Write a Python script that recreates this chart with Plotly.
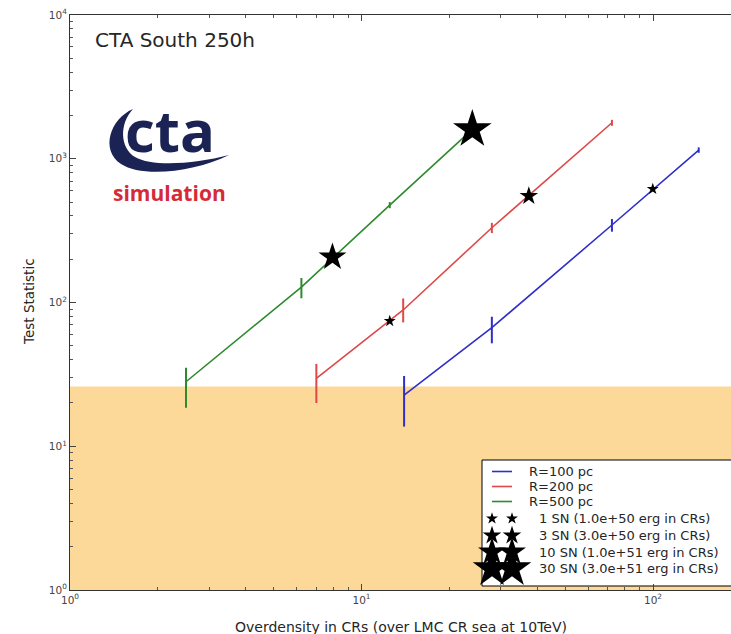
import plotly.graph_objects as go

# ---------------- data ----------------
# Test statistic versus CR overdensity for three source radii
blue_x = [14.0, 28.0, 72.3, 143.5]
blue_ts = [22.7, 66.8, 346, 1150]
blue_err_hi = [8.1, 12.8, 35, 50]
blue_err_lo = [9.0, 14.8, 35, 50]

red_x = [7.0, 13.9, 28.0, 72.3]
red_ts = [29.7, 88.7, 331, 1780]
red_err_hi = [7.7, 18, 27, 85]
red_err_lo = [9.7, 16, 27, 85]

green_x = [2.5, 6.22, 12.5, 24.0]
green_ts = [28.1, 128, 476, 1600]
green_err_hi = [7.0, 20, 23, 60]
green_err_lo = [9.6, 21, 23, 60]

radius_labels = ["R=100 pc", "R=200 pc", "R=500 pc"]
radius_colors = ["#2f2fc8", "#de4848", "#2e8a2e"]

# supernova-count markers placed on the curves
sn_star_x = [99.8, 12.5, 37.5, 7.95, 24.0]
sn_star_ts = [616, 74.3, 551, 207, 1600]
sn_star_n = [1, 1, 3, 10, 30]

sn_counts = [1, 3, 10, 30]
sn_energy = ["1.0e+50", "3.0e+50", "1.0e+51", "3.0e+51"]
sn_marker_size = {1: 9, 3: 14, 10: 21, 30: 29}

ts_threshold = 26          # top of the shaded (non-detection) band
x_tick_vals = [1, 10, 100]
x_tick_text = ["10<sup>0</sup>", "10<sup>1</sup>", "10<sup>2</sup>"]
y_tick_vals = [1, 10, 100, 1000, 10000]
y_tick_text = ["10<sup>0</sup>", "10<sup>1</sup>", "10<sup>2</sup>",
               "10<sup>3</sup>", "10<sup>4</sup>"]

# ---------------- layout helpers ----------------
W, H = 731, 634
ML, MR, MT, MB = 70, 0, 15, 44
PW, PH = W - ML - MR, H - MT - MB
X_DECADES = PW / 291.5


def fx(p):
    return (p - ML) / PW


def fy(p):
    return (MT + PH - p) / PH


FONT = "DejaVu Sans"
TXT = "#262626"

fig = go.Figure()

# shaded band below the detection threshold
x_end = 10 ** X_DECADES * 1.5
fig.add_trace(go.Scatter(
    x=[1, x_end, x_end, 1, 1], y=[0.5, 0.5, ts_threshold, ts_threshold, 0.5],
    fill="toself", fillcolor="#fcd899", mode="none",
    hoverinfo="skip", showlegend=False))

series = [(blue_x, blue_ts, blue_err_hi, blue_err_lo),
          (red_x, red_ts, red_err_hi, red_err_lo),
          (green_x, green_ts, green_err_hi, green_err_lo)]
for (xs, ys, ehi, elo), col, lab in zip(series, radius_colors, radius_labels):
    fig.add_trace(go.Scatter(
        x=xs, y=ys, mode="lines", name=lab, showlegend=False,
        line=dict(color=col, width=1.6),
        error_y=dict(type="data", array=ehi, arrayminus=elo, symmetric=False,
                     color=col, thickness=2, width=0)))

fig.add_trace(go.Scatter(
    x=sn_star_x, y=sn_star_ts, mode="markers", showlegend=False,
    marker=dict(symbol="star", color="black", opacity=1,
                size=[sn_marker_size[n] for n in sn_star_n],
                line=dict(width=0))))

# ---------------- hand-built legend (pixel overlay axes) ----------------
box_l, box_r, box_t, box_b = 482, 740, 460, 586
fig.add_trace(go.Scatter(
    x=[box_l, box_r, box_r, box_l, box_l], y=[box_t, box_t, box_b, box_b, box_t],
    xaxis="x2", yaxis="y2", mode="lines", fill="toself", fillcolor="white",
    line=dict(color="black", width=1), hoverinfo="skip", showlegend=False,
    cliponaxis=False))

row_y = [471.5, 486.5, 501.5, 518.5, 535.5, 552, 568.5]
h0, h1 = 492, 512
for i, col in enumerate(radius_colors):
    fig.add_trace(go.Scatter(
        x=[h0, h1], y=[row_y[i], row_y[i]], xaxis="x2", yaxis="y2",
        mode="lines", line=dict(color=col, width=1.6),
        hoverinfo="skip", showlegend=False))
    fig.add_annotation(x=fx(527), y=fy(row_y[i]), xref="paper", yref="paper",
                       text=radius_labels[i], showarrow=False,
                       xanchor="left", yanchor="middle",
                       font=dict(family=FONT, size=13, color=TXT))

for j, n in enumerate(sn_counts):
    yy = row_y[3 + j]
    fig.add_trace(go.Scatter(
        x=[h0, h1], y=[yy, yy], xaxis="x2", yaxis="y2", mode="markers",
        marker=dict(symbol="star", color="black", opacity=1,
                    size=sn_marker_size[n], line=dict(width=0)),
        hoverinfo="skip", showlegend=False, cliponaxis=False))
    fig.add_annotation(x=fx(537), y=fy(yy), xref="paper", yref="paper",
                       text=f"{n} SN ({sn_energy[j]} erg in CRs)",
                       showarrow=False, xanchor="left", yanchor="middle",
                       font=dict(family=FONT, size=13, color=TXT))

# ---------------- text: title, axis titles, logo ----------------
fig.add_annotation(x=fx(93), y=fy(40), xref="paper", yref="paper",
                   text="CTA South 250h", showarrow=False,
                   xanchor="left", yanchor="middle",
                   font=dict(family=FONT, size=20, color=TXT))
fig.add_annotation(x=fx(401), y=fy(627), xref="paper", yref="paper",
                   text="Overdensity in CRs (over LMC CR sea at 10TeV)",
                   showarrow=False, xanchor="center", yanchor="middle",
                   font=dict(family=FONT, size=14, color=TXT))
fig.add_annotation(x=fx(29), y=fy(302), xref="paper", yref="paper",
                   text="Test Statistic", textangle=-90, showarrow=False,
                   xanchor="center", yanchor="middle",
                   font=dict(family=FONT, size=13.5, color=TXT))

# logo: "cta" with its swoosh and the "simulation" tag
fig.add_annotation(x=fx(170), y=fy(129), xref="paper", yref="paper",
                   text="<b>cta</b>", showarrow=False,
                   xanchor="center", yanchor="middle",
                   font=dict(family="Open Sans", size=58, color="#1b2354"))
fig.add_annotation(x=fx(169), y=fy(193.5), xref="paper", yref="paper",
                   text="<b>simulation</b>", showarrow=False,
                   xanchor="center", yanchor="middle",
                   font=dict(family="Open Sans", size=21, color="#d52b36"))

swoosh = [("M", [(133, 109)]),
          ("C", [(110, 119), (100, 150), (121, 164)]),
          ("C", [(142, 178), (195, 172), (229, 155)]),
          ("C", [(195, 164), (152, 167), (135, 157)]),
          ("C", [(120, 148), (119, 124), (133, 109)])]
path = " ".join(cmd + " " + " ".join(f"{fx(a):.5f},{fy(b):.5f}" for a, b in pts)
                for cmd, pts in swoosh) + " Z"
fig.add_shape(type="path", path=path, xref="paper", yref="paper",
              fillcolor="#1b2354", line=dict(width=0), layer="above")

# ---------------- axes ----------------
x_minor = [k * 10 ** d for d in range(0, 3) for k in range(2, 10)]
y_minor = [k * 10 ** d for d in range(0, 4) for k in range(2, 10)]
tickfont = dict(family=FONT, size=10.5, color="#444444")

fig.update_layout(
    width=W, height=H,
    margin=dict(l=ML, r=MR, t=MT, b=MB),
    paper_bgcolor="white", plot_bgcolor="white",
    showlegend=False,
    xaxis=dict(type="log", range=[0, X_DECADES], showgrid=False, zeroline=False,
               showline=True, linecolor="#333333", linewidth=1, mirror="ticks",
               ticks="inside", ticklen=6, tickcolor="#444444",
               tickvals=x_tick_vals, ticktext=x_tick_text, tickfont=tickfont,
               minor=dict(ticks="inside", ticklen=3, tickcolor="#555555",
                          tickvals=x_minor, showgrid=False)),
    yaxis=dict(type="log", range=[0, 4], showgrid=False, zeroline=False,
               showline=True, linecolor="#333333", linewidth=1,
               ticks="inside", ticklen=6, tickcolor="#444444",
               tickvals=y_tick_vals, ticktext=y_tick_text, tickfont=tickfont,
               minor=dict(ticks="inside", ticklen=3, tickcolor="#555555",
                          tickvals=y_minor, showgrid=False)),
    xaxis2=dict(overlaying="x", range=[ML, W - MR], visible=False, fixedrange=True),
    yaxis2=dict(overlaying="y", range=[MT + PH, MT], visible=False, fixedrange=True),
)

fig.write_html("out.html")
